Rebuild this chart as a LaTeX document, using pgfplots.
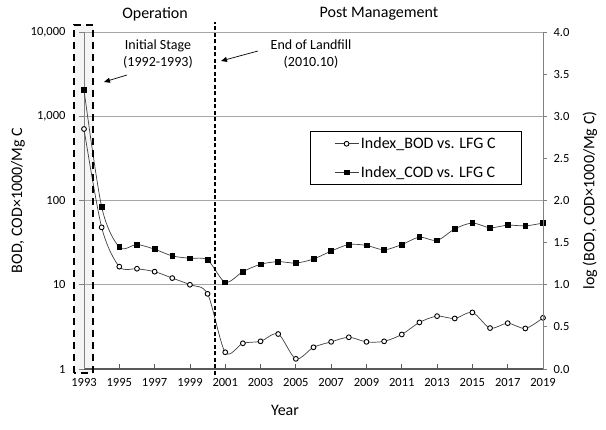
\documentclass[border=0pt]{standalone}
\usepackage{fontspec}
\setmainfont{Carlito}
\usepackage{pgfplots}
\pgfplotsset{compat=1.18}
\usetikzlibrary{arrows.meta}
\pgfplotstableread{
year bod cod
1993 706 2050
1994 48 84
1995 16.4 28
1996 15.5 30
1997 14.3 26.4
1998 12 22
1999 10 20.6
2000 7.8 19.7
2001 1.58 10.7
2002 2.02 14.3
2003 2.13 17.5
2004 2.6 18.8
2005 1.32 18.1
2006 1.81 20.2
2007 2.1 25.1
2008 2.38 30
2009 2.1 29.3
2010 2.13 26
2011 2.57 30
2012 3.57 36.7
2013 4.24 33.6
2014 3.98 46
2015 4.69 54
2016 3.06 47.5
2017 3.5 51
2018 3.03 50
2019 4.05 54
}\datatable
\definecolor{axgray}{HTML}{808080}
\definecolor{gridgray}{HTML}{A6A6A6}
\definecolor{linegray}{HTML}{404040}
\begin{document}
\begin{tikzpicture}
\useasboundingbox (0,0) rectangle (606bp,430bp);
% shaded initial stage
\fill[black!4] (74bp,57bp) rectangle (93bp,405bp);
\begin{axis}[
  at={(84bp,61bp)}, anchor=south west,
  scale only axis, width=459bp, height=337bp,
  xmin=1993, xmax=2019,
  ymode=log, ymin=1, ymax=10000,
  axis x line*=bottom, axis y line*=left,
  x axis line style={draw=black!65, line width=2bp, -},
  y axis line style={draw=axgray, line width=0.8bp, -},
  xtick={1993,1995,...,2019},
  xticklabel style={/pgf/number format/1000 sep=, font=\fontsize{12.5bp}{15bp}\selectfont, yshift=-6bp},
  x tick style={draw=black!65, line width=0.8bp},
  xtick align=inside, major tick length=5bp,
  ytick={1,10,100,1000,10000},
  yticklabels={1,10,100,{1,000},{10,000}},
  yticklabel style={font=\fontsize{12.5bp}{15bp}\selectfont, xshift=-10bp},
  y tick style={draw=axgray, line width=0.8bp},
  ytick align=outside,
  minor tick num=0, yminorticks=false,
  ymajorgrids, grid style={draw=gridgray, line width=0.9bp},
  /pgf/number format/assume math mode=true,
  xlabel={Year},
  xlabel style={at={(axis description cs:0.438,-0.122)}, anchor=center, font=\fontsize{16bp}{19bp}\selectfont},
  ylabel={BOD, COD×1000/Mg C},
  ylabel style={at={(axis description cs:-0.1438,0.5)}, anchor=center, rotate=0, font=\fontsize{16bp}{19bp}\selectfont},
  legend style={at={(0.492,0.706)}, anchor=north west, draw=black, line width=0.8bp,
    font=\fontsize{16bp}{19bp}\selectfont, inner xsep=24bp, inner ysep=4bp, row sep=12bp},
  legend cell align=left,
  legend image code/.code={\draw[mark repeat=2,mark phase=2] plot coordinates {(0bp,0bp)(12bp,0bp)(24bp,0bp)};},
  tension=0.5,
]
\addplot[smooth, linegray, line width=0.7bp, mark=*, mark size=2.4bp,
  mark options={fill=white, draw=black, line width=0.9bp, solid}]
  table[x=year, y=bod] {\datatable};
\addlegendentry{Index\_BOD vs. LFG C}
\addplot[smooth, linegray, line width=0.7bp, mark=square*, mark size=2.4bp,
  mark options={fill=black, draw=black, solid}]
  table[x=year, y=cod] {\datatable};
\addlegendentry{Index\_COD vs. LFG C}
\end{axis}
\begin{axis}[
  at={(84bp,61bp)}, anchor=south west,
  scale only axis, width=459bp, height=337bp,
  xmin=1993, xmax=2019, ymin=0, ymax=4,
  axis x line=none, axis y line*=right,
  y axis line style={draw=axgray, line width=0.8bp, -},
  ytick={0,0.5,...,4},
  yticklabel style={/pgf/number format/.cd, fixed, fixed zerofill, precision=1, /tikz/.cd, font=\fontsize{12.5bp}{15bp}\selectfont, xshift=3bp},
  y tick style={draw=axgray, line width=0.8bp},
  ytick align=outside, major tick length=4bp,
  /pgf/number format/assume math mode=true,
  ylabel={log (BOD, COD×1000/Mg C)},
  ylabel style={at={(axis description cs:1.1024,0.5)}, anchor=center, rotate=0, font=\fontsize{16bp}{19bp}\selectfont},
]
\end{axis}
% dashed box
\draw[black, line width=2.5bp, dash pattern=on 7bp off 5bp] (74bp,57bp) rectangle (93bp,405bp);
% end of landfill line
\draw[black, line width=1.5bp, dash pattern=on 4bp off 2.5bp] (215bp,55bp) -- (215bp,408bp);
% titles
\node[font=\fontsize{16bp}{19bp}\selectfont] at (155bp,416bp) {Operation};
\node[font=\fontsize{16bp}{19bp}\selectfont] at (379bp,416bp) {Post Management};
\node[font=\fontsize{14bp}{17bp}\selectfont, align=center] at (158bp,375.5bp) {Initial Stage\\(1992-1993)};
\node[font=\fontsize{14bp}{17bp}\selectfont, align=center] at (311bp,375.5bp) {End of Landfill\\(2010.10)};
\draw[-{Triangle[length=6bp,width=5bp]}, line width=0.7bp] (127bp,355bp) -- (104bp,348bp);
\draw[-{Triangle[length=6bp,width=5bp]}, line width=0.7bp] (258bp,379bp) -- (221bp,369bp);
\end{tikzpicture}
\end{document}
